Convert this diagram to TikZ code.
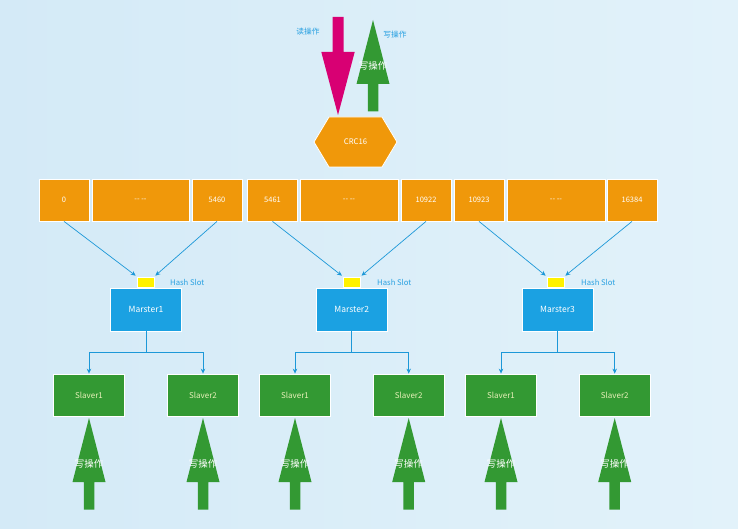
\documentclass[tikz,border=0pt]{standalone}
\usepackage{fontspec}
\setmainfont{Noto Sans CJK SC}
\usepackage{tikz}
\usetikzlibrary{arrows.meta,calc,backgrounds}
\definecolor{bgA}{RGB}{212,234,247}
\definecolor{bgB}{RGB}{226,242,250}
\definecolor{crcorange}{RGB}{240,152,10}
\definecolor{masterblue}{RGB}{27,161,226}
\definecolor{opgreen}{RGB}{51,153,51}
\definecolor{readpink}{RGB}{216,0,115}
\definecolor{linkblue}{RGB}{28,152,216}
\definecolor{labelblue}{RGB}{40,160,225}
\definecolor{slavetext}{RGB}{232,240,185}
% big upward arrow: x, tip y, node name
\newcommand{\writeop}[3]{%
  \fill[opgreen] (#1,#2) -- ++(16.5,64) -- ++(-11.25,0) -- ++(0,27.5)
    -- ++(-10.5,0) -- ++(0,-27.5) -- ++(-11.25,0) -- cycle;
  \node[optext] (#3) at (#1,{#2+46}) {写操作};}

\begin{document}
\begin{tikzpicture}[x=1pt,y=-1pt]
% node style definition
\tikzstyle{rangebox} = [draw=white, fill=crcorange, line width=0.8pt,
	minimum height=42, text=white, font=\fontsize{7.5}{8}\selectfont];
\tikzstyle{slotbox} = [fill=yellow, draw=white, line width=0.6pt,
	minimum width=17, minimum height=10, inner sep=0];
\tikzstyle{master} = [draw=white, fill=masterblue, line width=0.8pt,
	minimum width=71, minimum height=43, text=white,
	font=\fontsize{8.5}{9}\selectfont];
\tikzstyle{slave} = [draw=white, fill=opgreen, line width=0.8pt,
	minimum width=71, minimum height=42, text=slavetext,
	font=\fontsize{8}{9}\selectfont];
\tikzstyle{plain} = [text=labelblue, font=\fontsize{7.7}{8}\selectfont, inner sep=0];
\tikzstyle{optext} = [text=white, font=\fontsize{9.5}{10}\selectfont, inner sep=0];
\tikzstyle{link} = [draw=linkblue, line width=0.7pt,
	-{Stealth[length=5pt,width=4.5pt]}];

% background
\useasboundingbox (0,0) rectangle (738,529);
\shade[left color=bgA, right color=bgB] (0,0) rectangle (738,529);

% read / write operations
\fill[readpink] (332.5,17) -- (343.5,17) -- (343.5,52) -- (354.7,52)
	-- (338,115) -- (321.3,52) -- (332.5,52) -- cycle;
\writeop{373}{20}{wtop}
\node[plain] (rd) at (308,32) {读操作};
\node[plain] (wr) at (395,35) {写操作};

% hash function
\filldraw[fill=crcorange, draw=white, line width=0.8pt]
	(314,142) -- (329,117) -- (382,117) -- (397,142) -- (382,167) -- (329,167) -- cycle;
\node[text=white, font=\fontsize{7.7}{8}\selectfont] (crc) at (355.5,142) {CRC16};

% slot ranges
\node[rangebox, minimum width=50] (r0) at (64,200) {0};
\node[rangebox, minimum width=97] (d1) at (140.5,200) {-{}- -{}-};
\node[rangebox, minimum width=50] (r5460) at (217,200) {5460};
\node[rangebox, minimum width=50] (r5461) at (272.5,200) {5461};
\node[rangebox, minimum width=98] (d2) at (349,200) {-{}- -{}-};
\node[rangebox, minimum width=50] (r10922) at (426,200) {10922};
\node[rangebox, minimum width=50] (r10923) at (479,200) {10923};
\node[rangebox, minimum width=98] (d3) at (556,200) {-{}- -{}-};
\node[rangebox, minimum width=50] (r16384) at (632,200) {16384};

% hash slots
\node[slotbox] (h1) at (145.5,282) {};
\node[slotbox] (h2) at (351.7,282) {};
\node[slotbox] (h3) at (555.5,282) {};
\node[plain, anchor=west] (hl1) at (170,282) {Hash Slot};
\node[plain, anchor=west] (hl2) at (377,282) {Hash Slot};
\node[plain, anchor=west] (hl3) at (581,282) {Hash Slot};

% masters
\node[master] (m1) at (146,309.5) {Marster1};
\node[master] (m2) at (351.7,309.5) {Marster2};
\node[master] (m3) at (557.5,309.5) {Marster3};

% slaves
\node[slave] (s11) at (89,395) {Slaver1};
\node[slave] (s12) at (203,395) {Slaver2};
\node[slave] (s21) at (295,395) {Slaver1};
\node[slave] (s22) at (408.7,395) {Slaver2};
\node[slave] (s31) at (501,395) {Slaver1};
\node[slave] (s32) at (614.7,395) {Slaver2};

% connectors
\draw[link] (r0.south) -- ($(h1.north west)+(-1,-1)$);
\draw[link] (r5460.south) -- ($(h1.north east)+(1,-1)$);
\draw[link] (r5461.south) -- ($(h2.north west)+(-1,-1)$);
\draw[link] (r10922.south) -- ($(h2.north east)+(1,-1)$);
\draw[link] (r10923.south) -- ($(h3.north west)+(-1,-1)$);
\draw[link] (r16384.south) -- ($(h3.north east)+(1,-1)$);

\draw[link] (m1.south) -- ++(0,21) -| (s11.north);
\draw[link] (m1.south) -- ++(0,21) -| (s12.north);
\draw[link] (m2.south) -- ++(0,21) -| (s21.north);
\draw[link] (m2.south) -- ++(0,21) -| (s22.north);
\draw[link] (m3.south) -- ++(0,21) -| (s31.north);
\draw[link] (m3.south) -- ++(0,21) -| (s32.north);

% write operations on slaves
\writeop{89}{418}{w11}
\writeop{203}{418}{w12}
\writeop{295}{418}{w21}
\writeop{408.7}{418}{w22}
\writeop{501}{418}{w31}
\writeop{614.7}{418}{w32}

\end{tikzpicture}
\end{document}
